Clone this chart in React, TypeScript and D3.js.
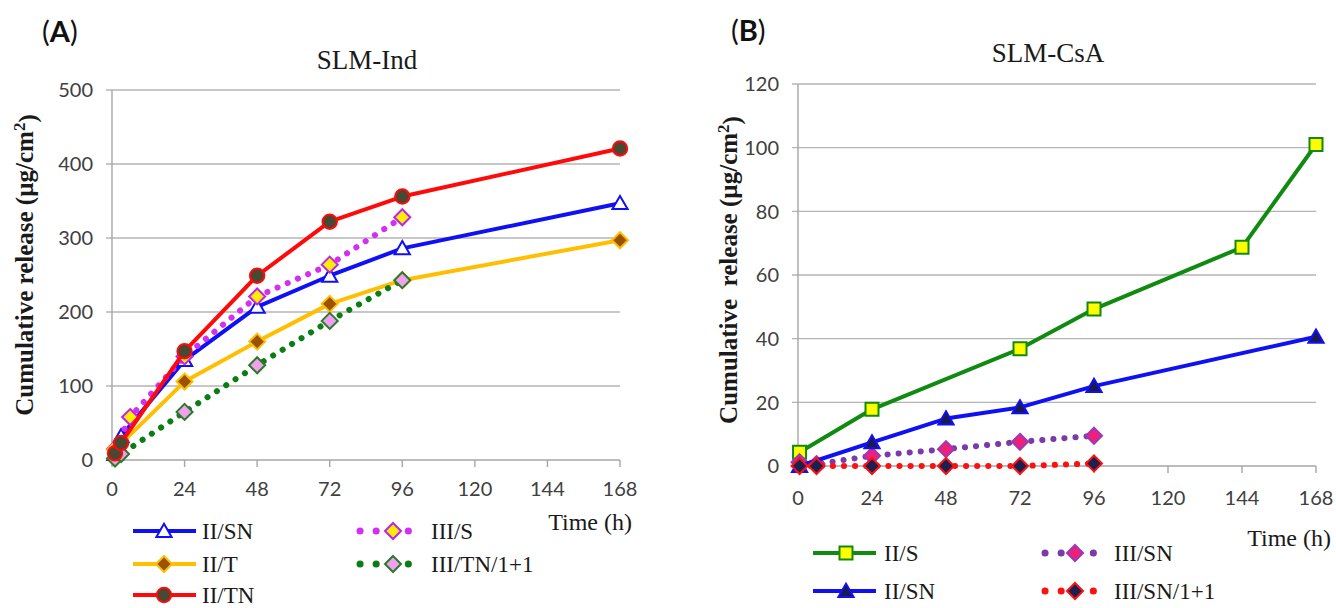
import React from "react";
import * as d3 from "d3";

// ---------- DATA ----------
const xTicks = [0, 24, 48, 72, 96, 120, 144, 168];
const yTicksA = [0, 100, 200, 300, 400, 500];
const yTicksB = [0, 20, 40, 60, 80, 100, 120];

// Panel A: SLM-Ind
const aII_SN_t = [1, 3, 24, 48, 72, 96, 168];
const aII_SN_v = [8, 32, 135, 207, 249, 286, 347];
const aIII_S_t = [1, 6, 24, 48, 72, 96];
const aIII_S_v = [15, 58, 140, 221, 264, 328];
const aII_T_t = [1, 24, 48, 72, 96, 168];
const aII_T_v = [14, 106, 160, 211, 243, 297];
const aIII_TN_t = [1, 3, 24, 48, 72, 96];
const aIII_TN_v = [2, 8, 65, 128, 188, 243];
const aII_TN_t = [1, 3, 24, 48, 72, 96, 168];
const aII_TN_v = [9, 23, 147, 249, 322, 356, 421];

// Panel B: SLM-CsA
const bII_S_t = [0.5, 24, 72, 96, 144, 168];
const bII_S_v = [4.3, 17.8, 36.8, 49.3, 68.7, 101];
const bIII_SN_t = [0.5, 6, 24, 48, 72, 96];
const bIII_SN_v = [1.2, 0.6, 3.2, 5.3, 7.6, 9.5];
const bII_SN_t = [0.5, 24, 48, 72, 96, 168];
const bII_SN_v = [0, 7.4, 14.9, 18.4, 25.1, 40.6];
const bIII_SN11_t = [0.5, 6, 24, 48, 72, 96];
const bIII_SN11_v = [0, 0, 0, 0, 0, 0.8];

type Marker = "circle" | "triangle" | "diamond" | "square";
interface Series {
  name: string;
  t: number[];
  v: number[];
  line: string;
  dotted: boolean;
  marker: Marker;
  fill: string;
  mstroke: string;
}

const seriesA: Series[] = [
  { name: "II/SN", t: aII_SN_t, v: aII_SN_v, line: "#1010f5", dotted: false, marker: "triangle", fill: "#ffffff", mstroke: "#1010f5" },
  { name: "III/S", t: aIII_S_t, v: aIII_S_v, line: "#d42ef0", dotted: true, marker: "diamond", fill: "#ffee00", mstroke: "#c020f0" },
  { name: "II/T", t: aII_T_t, v: aII_T_v, line: "#ffbf00", dotted: false, marker: "diamond", fill: "#9a5200", mstroke: "#ffbf00" },
  { name: "III/TN/1+1", t: aIII_TN_t, v: aIII_TN_v, line: "#0a7d14", dotted: true, marker: "diamond", fill: "#f0a0ec", mstroke: "#2a7a2a" },
  { name: "II/TN", t: aII_TN_t, v: aII_TN_v, line: "#ff0a0a", dotted: false, marker: "circle", fill: "#4a4830", mstroke: "#ff0a0a" },
];
const legendOrderA = ["II/SN", "II/T", "II/TN", "III/S", "III/TN/1+1"];

const seriesB: Series[] = [
  { name: "II/S", t: bII_S_t, v: bII_S_v, line: "#108a10", dotted: false, marker: "square", fill: "#ffff00", mstroke: "#108a10" },
  { name: "III/SN", t: bIII_SN_t, v: bIII_SN_v, line: "#7a3aa8", dotted: true, marker: "diamond", fill: "#f0207a", mstroke: "#9a3ab8" },
  { name: "II/SN", t: bII_SN_t, v: bII_SN_v, line: "#1010f5", dotted: false, marker: "triangle", fill: "#1a1a50", mstroke: "#1010f5" },
  { name: "III/SN/1+1", t: bIII_SN11_t, v: bIII_SN11_v, line: "#ff1010", dotted: true, marker: "diamond", fill: "#1a2050", mstroke: "#ff1010" },
];
const legendOrderB = ["II/S", "II/SN", "III/SN", "III/SN/1+1"];

// ---------- HELPERS ----------
const TICK_FONT = "Lato, 'Open Sans', sans-serif";
const SERIF = "'Liberation Serif', 'DejaVu Serif', serif";

function markerPath(m: Marker): string {
  if (m === "circle") return d3.symbol(d3.symbolCircle, Math.PI * 7.2 * 7.2)() as string;
  if (m === "square") return d3.symbol(d3.symbolSquare, 13 * 13)() as string;
  if (m === "triangle") return d3.symbol(d3.symbolTriangle, 100)() as string;
  const r = 8;
  return `M0,${-r}L${r},0L0,${r}L${-r},0Z`;
}

function MarkerShape({ s, x, y }: { s: Series; x: number; y: number }) {
  const dy = s.marker === "triangle" ? 1.5 : 0;
  return (
    <path
      d={markerPath(s.marker)}
      transform={`translate(${x},${y + dy})`}
      fill={s.fill}
      stroke={s.mstroke}
      strokeWidth={2}
    />
  );
}

function SeriesLine({ s, x, y }: { s: Series; x: d3.ScaleLinear<number, number>; y: d3.ScaleLinear<number, number> }) {
  const pts: [number, number][] = s.t.map((t, i) => [t, s.v[i]]);
  const gen = d3.line<[number, number]>().x((d) => x(d[0])).y((d) => y(d[1]));
  return (
    <g>
      <path
        d={gen(pts) as string}
        fill="none"
        stroke={s.line}
        strokeWidth={s.dotted ? 6 : 4}
        strokeDasharray={s.dotted ? "0.1 11" : undefined}
        strokeLinecap={s.dotted ? "round" : "butt"}
        strokeLinejoin="round"
      />
      {pts.map((p, i) => (
        <MarkerShape key={i} s={s} x={x(p[0])} y={y(p[1])} />
      ))}
    </g>
  );
}

interface PanelProps {
  x: d3.ScaleLinear<number, number>;
  y: d3.ScaleLinear<number, number>;
  yTicks: number[];
  tickLabelY: number;
  yLabelRight: number;
}

function Axes({ x, y, yTicks, tickLabelY, yLabelRight }: PanelProps) {
  const [x0, x1] = x.range();
  const yTop = y(yTicks[yTicks.length - 1]);
  const yBot = y(0);
  return (
    <g>
      {yTicks.map((t) =>
        t === 0 ? null : (
          <line key={"g" + t} x1={x0 - 6} x2={x1} y1={y(t)} y2={y(t)} stroke="#b4b4b4" strokeWidth={1.4} />
        )
      )}
      <line x1={x0} x2={x0} y1={yTop} y2={yBot} stroke="#a6a6a6" strokeWidth={1.4} />
      <line x1={x0 - 6} x2={x1} y1={yBot} y2={yBot} stroke="#a6a6a6" strokeWidth={1.4} />
      {xTicks.map((t) => (
        <line key={"xt" + t} x1={x(t)} x2={x(t)} y1={yBot} y2={yBot + 7} stroke="#a6a6a6" strokeWidth={1.4} />
      ))}
      {yTicks.map((t) => (
        <text
          key={"yl" + t}
          x={yLabelRight}
          y={y(t)}
          dy="0.36em"
          textAnchor="end"
          fontFamily={TICK_FONT}
          fontSize={20}
          fill="#404040"
        >
          {t}
        </text>
      ))}
      {xTicks.map((t) => (
        <text
          key={"xl" + t}
          x={x(t)}
          y={tickLabelY}
          dy="0.36em"
          textAnchor="middle"
          fontFamily={TICK_FONT}
          fontSize={20}
          fill="#404040"
        >
          {t}
        </text>
      ))}
    </g>
  );
}

function LegendItem({ s, lx0, lx1, mx, tx, ty }: { s: Series; lx0: number; lx1: number; mx: number; tx: number; ty: number }) {
  return (
    <g>
      {s.dotted ? (
        <line
          x1={lx0}
          x2={lx1}
          y1={ty}
          y2={ty}
          stroke={s.line}
          strokeWidth={7}
          strokeDasharray="0.1 16"
          strokeLinecap="round"
        />
      ) : (
        <line x1={lx0} x2={lx1} y1={ty} y2={ty} stroke={s.line} strokeWidth={4} />
      )}
      {s.dotted && <rect x={mx - 8} y={ty - 6} width={16} height={12} fill="#ffffff" />}
      <MarkerShape s={s} x={mx} y={ty} />
      <text x={tx} y={ty} dy="0.35em" fontFamily={SERIF} fontSize={23} fill="#1a1a1a">
        {s.name}
      </text>
    </g>
  );
}

function YTitle({ cx, cy, double }: { cx: number; cy: number; double?: boolean }) {
  return (
    <text
      transform={`translate(${cx},${cy}) rotate(-90)`}
      textAnchor="middle"
      dy="0.35em"
      fontFamily={SERIF}
      fontWeight="bold"
      fontSize={25}
      fill="#1a1a1a"
      style={{ whiteSpace: "pre" }}
    >
      {double ? "Cumulative  release (" : "Cumulative release ("}
      <tspan>µg/cm</tspan>
      <tspan dy="-0.45em" fontSize={17}>2</tspan>
      <tspan dy="0.45em">)</tspan>
    </text>
  );
}

export default function App() {
  const xA = d3.scaleLinear().domain([0, 168]).range([112, 620]);
  const yA = d3.scaleLinear().domain([0, 500]).range([460, 90]);
  const xB = d3.scaleLinear().domain([0, 168]).range([798, 1316]);
  const yB = d3.scaleLinear().domain([0, 120]).range([466, 84]);

  const byName = (arr: Series[], n: string) => arr.find((s) => s.name === n) as Series;

  const legendRowsA = [531, 564, 595];
  const legendRowsB = [553, 591];

  return (
    <svg
      width={1336}
      height={608}
      viewBox="0 0 1336 608"
      style={{ position: "absolute", left: 0, top: 0, background: "#ffffff" }}
    >
      <rect width={1336} height={608} fill="#ffffff" />

      {/* Panel A */}
      <text x={42} y={32} dy="0.35em" fontFamily={TICK_FONT} fontSize={29} fill="#111">
        (<tspan fontWeight="bold">A</tspan>)
      </text>
      <text x={367} y={60} dy="0.35em" textAnchor="middle" fontFamily={SERIF} fontSize={27} fill="#1a1a1a">
        SLM-Ind
      </text>
      <YTitle cx={24} cy={265} />
      <Axes x={xA} y={yA} yTicks={yTicksA} tickLabelY={489} yLabelRight={93} />
      {seriesA.map((s) => (
        <SeriesLine key={s.name} s={s} x={xA} y={yA} />
      ))}
      <text x={632} y={522} dy="0.35em" textAnchor="end" fontFamily={SERIF} fontSize={24} fill="#1a1a1a">
        Time (h)
      </text>
      {legendOrderA.slice(0, 3).map((n, i) => (
        <LegendItem key={n} s={byName(seriesA, n)} lx0={133} lx1={196} mx={164} tx={202} ty={legendRowsA[i]} />
      ))}
      {legendOrderA.slice(3).map((n, i) => (
        <LegendItem key={n} s={byName(seriesA, n)} lx0={360} lx1={420} mx={393} tx={431} ty={legendRowsA[i]} />
      ))}

      {/* Panel B */}
      <text x={731} y={31} dy="0.35em" fontFamily={TICK_FONT} fontSize={29} fill="#111">
        (<tspan fontWeight="bold">B</tspan>)
      </text>
      <text x={1048} y={53} dy="0.35em" textAnchor="middle" fontFamily={SERIF} fontSize={27} fill="#1a1a1a">
        SLM-CsA
      </text>
      <YTitle cx={728} cy={270} double />
      <Axes x={xB} y={yB} yTicks={yTicksB} tickLabelY={498} yLabelRight={779} />
      {seriesB.map((s) => (
        <SeriesLine key={s.name} s={s} x={xB} y={yB} />
      ))}
      <text x={1331} y={538} dy="0.35em" textAnchor="end" fontFamily={SERIF} fontSize={24} fill="#1a1a1a">
        Time (h)
      </text>
      {legendOrderB.slice(0, 2).map((n, i) => (
        <LegendItem key={n} s={byName(seriesB, n)} lx0={813} lx1={876} mx={846} tx={884} ty={legendRowsB[i]} />
      ))}
      {legendOrderB.slice(2).map((n, i) => (
        <LegendItem key={n} s={byName(seriesB, n)} lx0={1045} lx1={1105} mx={1075} tx={1114} ty={legendRowsB[i]} />
      ))}
    </svg>
  );
}
